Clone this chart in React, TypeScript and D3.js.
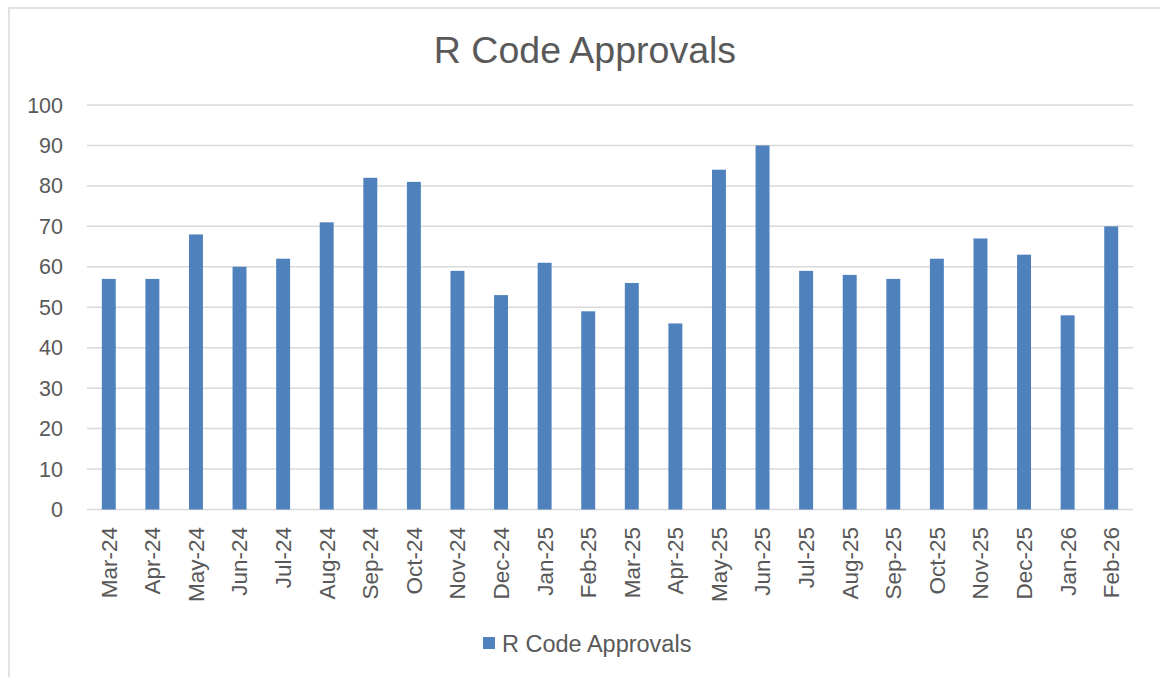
import React from "react";
import * as d3 from "d3";

const months: string[] = [
  "Mar-24", "Apr-24", "May-24", "Jun-24", "Jul-24", "Aug-24", "Sep-24", "Oct-24",
  "Nov-24", "Dec-24", "Jan-25", "Feb-25", "Mar-25", "Apr-25", "May-25", "Jun-25",
  "Jul-25", "Aug-25", "Sep-25", "Oct-25", "Nov-25", "Dec-25", "Jan-26", "Feb-26",
];
const approvals: number[] = [
  57, 57, 68, 60, 62, 71, 82, 81,
  59, 53, 61, 49, 56, 46, 84, 90,
  59, 58, 57, 62, 67, 63, 48, 70,
];
const yTicks: number[] = [0, 10, 20, 30, 40, 50, 60, 70, 80, 90, 100];
const title = "R Code Approvals";
const seriesName = "R Code Approvals";

const W = 1160;
const H = 677;
const plot = { left: 87, right: 1133, top: 105, bottom: 509.5 };
const FONT = "'Liberation Sans', Arial, sans-serif";
const TEXT = "#595959";
const GRID = "#d9d9d9";
const BAR = "#4f81bd";

export default function App() {
  const x = d3
    .scaleBand<string>()
    .domain(months)
    .range([plot.left, plot.right])
    .paddingInner(0.68)
    .paddingOuter(0.34);
  const y = d3.scaleLinear().domain([0, 100]).range([plot.bottom, plot.top]);

  return (
    <svg
      width={W}
      height={H}
      style={{ position: "absolute", left: 0, top: 0, background: "#fff" }}
      fontFamily={FONT}
    >
      <rect x={0} y={0} width={W} height={H} fill="#fff" />
      <rect x={9} y={8} width={1300} height={800} fill="#fff" stroke={GRID} strokeWidth={1.5} />
      <text x={585} y={63} textAnchor="middle" fontSize={37.5} fill={TEXT}>
        {title}
      </text>
      {yTicks.map((t) => (
        <g key={t}>
          <line
            x1={plot.left}
            x2={plot.right}
            y1={y(t)}
            y2={y(t)}
            stroke={GRID}
            strokeWidth={1.5}
          />
          <text
            x={63}
            y={y(t)}
            dy="0.35em"
            textAnchor="end"
            fontSize={21.5}
            fill={TEXT}
          >
            {t}
          </text>
        </g>
      ))}
      {months.map((m, i) => (
        <rect
          key={m}
          x={x(m)}
          y={y(approvals[i])}
          width={x.bandwidth()}
          height={y(0) - y(approvals[i])}
          fill={BAR}
        />
      ))}
      {months.map((m) => {
        const cx = (x(m) as number) + x.bandwidth() / 2;
        return (
          <text
            key={m}
            transform={`translate(${cx},527) rotate(-90)`}
            dy="0.35em"
            textAnchor="end"
            fontSize={22.5}
            fill={TEXT}
          >
            {m}
          </text>
        );
      })}
      <rect x={483} y={637} width={12} height={12} fill={BAR} />
      <text x={502} y={651.5} fontSize={23.5} fill={TEXT}>
        {seriesName}
      </text>
    </svg>
  );
}
